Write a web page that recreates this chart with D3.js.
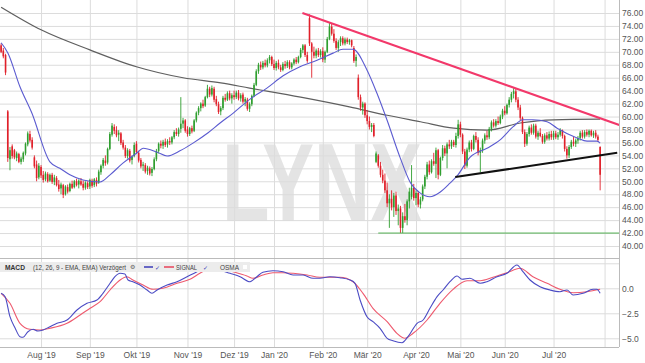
<!DOCTYPE html>
<html>
<head>
<meta charset="utf-8">
<script src="https://cdn.jsdelivr.net/npm/d3@7"></script>
<style>
  body { margin: 0; background: #fff; }
  svg { display: block; font-family: "Liberation Sans", Arial, sans-serif; }
</style>
</head>
<body>
<svg id="chart" width="645" height="363"></svg>
<script>
// trading calendar (Xetra)
const firstDay = '2019-07-08';
const lastDay = '2020-08-11';
const holidays = ['2019-12-24', '2019-12-25', '2019-12-26', '2019-12-31', '2020-01-01', '2020-04-10', '2020-04-13', '2020-05-01'];

// daily candles, one line per month (Jul 19 ... Jul 20)
const open = [
  71.0,70.2,69.5,60.8,53.4,55.4,54.8,53.6,54.2,53.0,53.4,54.3,55.7,57.3,56.4,53.7,52.6,50.6,
  52.2,51.0,50.3,51.1,50.1,51.0,49.9,50.5,49.5,48.9,49.4,48.0,49.1,48.5,49.6,49.1,50.0,49.5,50.0,49.6,49.0,49.7,
  49.2,50.1,49.4,50.2,49.8,51.4,52.4,53.2,52.9,55.0,57.2,58.4,57.9,57.2,57.4,56.0,55.2,53.9,54.7,53.3,53.9,
  55.8,54.4,53.3,52.4,52.5,51.6,52.0,51.3,51.9,53.4,54.7,55.8,55.5,56.1,55.7,56.2,56.0,56.8,57.6,57.3,58.1,58.9,59.4,
  58.0,57.3,58.2,57.8,59.4,60.6,61.3,62.0,61.7,63.0,64.3,63.4,64.3,62.7,61.9,60.8,61.3,62.9,62.6,63.6,62.8,
  63.3,63.0,63.7,62.8,63.4,62.3,62.6,61.2,61.9,63.2,64.9,67.0,68.0,67.6,68.3,67.9,68.7,69.2,
  68.1,67.5,68.3,67.6,67.2,68.1,67.8,68.4,67.6,68.2,68.8,68.4,69.2,70.3,71.0,69.5,75.2,71.3,70.0,69.4,70.2,69.5,
  70.1,68.8,70.0,72.0,73.9,72.8,71.7,70.6,71.5,72.1,71.3,71.9,71.5,71.8,70.6,68.6,66.0,63.0,61.4,62.0,
  60.2,59.3,58.4,58.7,53.0,54.0,52.4,51.0,50.1,48.6,46.6,47.3,46.0,47.8,45.4,45.8,42.8,44.6,44.0,46.9,47.6,49.0,
  47.4,48.2,46.4,47.2,49.2,50.7,52.6,51.4,53.1,52.7,54.8,51.0,53.6,55.1,54.3,55.7,55.4,56.1,55.6,57.0,
  58.8,57.2,54.6,52.4,54.9,56.0,55.0,57.0,56.4,54.4,54.8,56.3,57.1,56.8,58.1,59.1,58.6,59.3,59.0,60.0,
  60.9,60.5,61.8,62.6,63.5,63.9,62.6,61.4,59.8,57.6,55.8,57.3,58.3,57.5,58.6,56.9,57.5,57.0,56.1,57.1,56.6,57.3,
  56.8,57.4,56.8,57.2,57.9,57.0,55.0,54.0,55.3,56.1,55.8,56.3,56.7,57.5,56.9,57.6,57.2,57.8,57.1,57.5,56.9,55.3
];
const high = [
  71.3,70.6,69.7,61.0,55.3,55.7,55.0,54.6,54.4,53.8,54.6,56.0,57.7,57.8,56.8,54.0,53.2,52.8,
  52.5,51.6,51.5,51.4,51.2,51.3,51.0,50.8,50.2,49.8,49.6,49.4,49.5,49.8,50.1,50.2,50.4,50.3,50.5,50.1,50.0,50.0,
  50.4,50.4,50.5,50.6,51.8,52.6,53.6,54.0,55.2,57.6,59.0,58.8,58.5,57.9,57.6,56.4,55.6,55.1,55.0,54.0,56.0,
  56.2,54.7,53.6,53.0,52.8,52.4,52.3,52.2,53.7,55.0,56.0,56.3,56.4,56.6,56.5,56.8,57.0,57.9,58.2,58.3,63.0,59.8,59.6,
  58.5,58.4,58.6,59.6,60.8,61.6,62.2,62.6,63.2,64.9,64.6,64.8,64.6,63.2,62.3,61.6,63.2,63.5,63.9,64.0,63.6,
  64.0,64.0,64.1,63.6,63.7,63.0,62.9,62.2,63.4,65.2,67.3,68.3,68.5,68.6,68.8,69.0,69.5,69.4,
  68.8,68.6,68.8,68.0,68.4,68.6,68.7,68.7,68.4,69.0,69.2,69.4,70.6,71.2,71.2,70.0,75.8,71.5,70.8,70.5,70.6,70.4,
  70.7,70.2,72.3,74.5,74.3,73.5,72.1,71.8,72.4,72.4,72.2,72.2,72.0,71.9,70.9,69.6,66.5,63.4,62.3,62.2,
  61.0,60.0,59.0,59.0,54.6,54.2,53.0,51.8,51.2,49.8,48.0,48.6,48.2,48.4,46.4,46.2,45.2,46.5,47.2,49.0,52.5,49.6,
  48.6,48.5,47.6,49.5,51.0,53.0,53.2,53.4,54.4,55.2,55.0,53.8,55.6,55.5,56.0,56.4,56.4,56.4,57.5,59.5,
  59.2,57.4,55.0,55.2,56.3,56.4,57.2,57.6,56.8,55.2,56.6,57.4,57.8,58.4,59.4,59.6,59.6,60.0,60.3,61.2,
  61.6,62.0,63.0,63.8,64.4,64.3,63.0,61.8,60.0,58.0,57.6,58.6,58.8,58.9,58.9,57.8,58.2,57.3,57.4,57.6,57.7,57.8,
  57.8,57.8,57.6,58.2,58.0,57.2,55.4,55.6,56.4,56.9,56.6,57.0,57.8,57.9,57.9,58.0,58.0,58.0,57.8,57.9,57.2,55.4
];
const low = [
  69.8,69.0,66.4,53.0,51.7,53.5,53.4,53.1,52.8,52.6,53.0,54.0,55.4,56.0,54.9,52.0,50.0,50.3,
  50.5,49.8,50.0,49.8,49.9,49.6,49.4,49.2,48.4,48.0,47.4,47.8,48.1,48.3,48.8,48.9,49.2,48.9,49.3,48.6,48.7,48.8,
  48.8,49.0,49.1,49.2,49.6,51.0,52.0,52.4,52.6,54.8,56.9,57.3,56.8,56.2,55.6,54.9,53.6,53.5,52.9,52.6,53.7,
  54.2,52.9,52.0,51.6,51.2,51.0,50.9,50.8,51.7,53.1,54.3,55.1,55.0,55.3,55.2,55.6,55.7,56.5,57.0,56.9,57.5,58.2,57.5,
  56.9,57.0,57.4,57.6,59.1,60.2,60.8,61.3,61.5,62.8,63.0,63.1,62.2,61.6,60.4,60.2,61.0,62.3,62.4,62.5,62.0,
  62.6,62.7,62.5,62.3,62.0,61.6,60.9,60.7,61.6,63.0,64.7,66.6,67.2,67.3,67.6,67.6,68.2,67.8,
  67.2,67.1,67.3,66.9,67.0,67.4,67.5,67.3,67.3,67.9,68.1,68.2,69.0,69.8,69.2,68.3,70.9,66.0,69.0,69.0,69.2,69.1,
  68.4,68.3,69.8,71.8,72.5,71.4,70.3,70.0,70.9,71.0,71.0,71.2,71.1,70.7,68.3,67.7,62.6,60.9,60.3,59.8,
  58.8,58.0,57.6,56.8,52.8,52.1,50.6,49.7,48.2,46.0,42.8,45.5,44.5,44.8,43.2,42.0,42.0,43.6,43.2,45.8,47.2,47.0,
  46.3,46.0,45.8,46.9,48.8,50.3,51.0,51.2,52.4,50.5,50.3,50.8,53.2,53.9,52.0,55.0,55.0,55.3,55.2,56.6,
  56.8,54.2,51.9,52.1,54.5,54.6,54.8,56.0,54.0,51.4,54.4,55.8,56.4,56.5,57.7,58.3,58.3,58.7,58.8,59.6,
  60.2,60.3,61.4,62.2,62.8,62.2,61.0,59.4,57.3,55.3,55.5,56.9,57.2,57.2,56.6,56.4,56.8,55.8,55.8,56.3,56.3,56.4,
  56.4,56.5,56.4,56.9,56.6,54.6,53.5,53.6,55.0,55.4,55.3,55.8,56.3,56.6,56.6,56.9,56.8,56.9,56.7,56.6,56.1,48.6
];
const close = [
  70.0,69.3,66.8,53.6,54.8,53.9,53.7,54.3,53.0,53.5,54.4,55.8,57.4,56.3,55.2,52.3,50.5,52.4,
  50.9,50.2,51.2,50.0,51.0,49.9,50.6,49.4,48.8,49.5,47.9,49.2,48.4,49.6,49.0,50.0,49.4,50.1,49.5,49.0,49.8,49.1,
  50.2,49.3,50.3,49.6,51.5,52.4,53.3,52.8,55.0,57.3,58.6,57.8,57.1,57.5,55.9,55.2,53.9,54.8,53.2,53.8,55.6,
  54.5,53.2,52.3,52.6,51.5,52.1,51.2,51.9,53.4,54.7,55.8,55.5,56.1,55.6,56.2,56.0,56.8,57.6,57.3,58.0,58.9,59.4,57.8,
  57.3,58.2,57.7,59.4,60.6,61.3,62.0,61.6,63.0,64.3,63.4,64.4,62.6,61.9,60.7,61.3,62.9,62.6,63.6,62.8,63.3,
  63.0,63.7,62.8,63.3,62.3,62.7,61.2,61.9,63.2,64.9,67.0,68.0,67.6,68.3,67.9,68.7,69.2,68.1,
  67.5,68.3,67.6,67.2,68.1,67.8,68.4,67.6,68.2,68.8,68.4,69.2,70.3,71.0,69.5,68.6,71.3,70.0,69.4,70.2,69.5,70.1,
  68.8,70.0,72.0,73.9,72.8,71.7,70.6,71.5,72.1,71.3,71.9,71.5,71.8,71.0,68.6,69.2,63.0,61.4,62.0,60.2,
  59.3,58.4,58.7,57.0,54.3,52.4,51.0,50.1,48.6,46.6,47.3,46.0,47.8,45.4,45.8,42.8,44.6,44.0,46.9,48.4,49.0,47.4,
  48.2,46.4,47.2,49.2,50.7,52.6,51.4,53.1,52.7,54.8,51.0,53.6,55.1,54.3,55.7,55.4,56.1,55.6,57.0,58.8,
  57.2,54.6,52.4,54.9,56.0,55.0,57.0,56.4,54.4,54.8,56.3,57.1,56.8,58.1,59.1,58.6,59.3,59.0,60.0,60.9,
  60.5,61.8,62.6,63.5,63.9,62.6,61.4,59.8,57.6,55.8,57.3,58.3,57.5,58.6,56.9,57.5,57.0,56.1,57.1,56.6,57.3,56.8,
  57.4,56.8,57.2,57.9,57.0,55.0,54.0,55.3,56.1,55.8,56.3,56.7,57.5,56.9,57.6,57.2,57.8,57.1,57.5,56.9,56.4,51.0
];

// moving averages: [trading day index, value]
const sma200 = [[0,76.9],[18,73.4],[40,70.3],[61,67.7],[82,66.0],[99,65.2],[112,64.4],[135,63.0],[157,61.5],[174,60.2],[189,59.2],[204,58.2],[219,57.9],[234,59.0],[249,59.5],[270,59.6]];
const sma20 = [[0,71.4],[3.1,69.8],[8.5,64.6],[13.9,60.5],[22,53.0],[26.5,52.0],[31,51.0],[36.9,50.2],[44.6,49.9],[49.1,51.0],[54.9,52.8],[61.3,54.4],[64,55.1],[70.3,54.5],[74.8,53.9],[80.6,54.7],[86.5,55.9],[93.3,57.5],[98.7,59.0],[104.5,60.5],[112.2,62.7],[119.8,64.4],[127.1,66.3],[134.7,67.7],[142.4,68.7],[149.6,69.8],[154.1,70.4],[158.6,70.4],[164.9,67.2],[169.4,63.6],[173.9,59.5],[179.8,53.7],[184.3,49.9],[188.8,48.2],[193.3,47.6],[197.8,48.3],[202.3,49.7],[205.9,51.0],[211.3,53.7],[219,55.1],[224.9,56.4],[230.7,58.4],[235.2,59.5],[239.7,59.5],[246.1,59.2],[250.6,58.2],[259.6,56.7],[264.1,56.2],[268.6,56.2],[270,55.9]];

// MACD (12, 26, 9) and signal
const macd = [[0,-0.50],[1.8,-0.84],[4,-2.84],[6.3,-3.97],[8.5,-4.84],[9.9,-4.90],[12.1,-4.34],[14.4,-4.10],[16.6,-4.27],[18.9,-4.17],[22,-3.84],[25.2,-3.50],[29.7,-3.17],[34.2,-2.17],[38.7,-1.50],[43.2,-1.17],[45.9,-0.50],[49.1,0.50],[51.3,1.16],[53.6,1.50],[55.8,1.43],[57.2,0.83],[59.4,0.66],[62.6,0.33],[65.8,-0.17],[68,-0.50],[70.3,-0.17],[74.8,0.33],[79.3,0.66],[83.8,1.16],[88.3,1.66],[92.8,2.23],[95.5,2.16],[98.7,1.83],[103.2,1.50],[107.7,1.16],[112.2,0.66],[115.3,1.16],[118,1.60],[122.5,1.76],[127.1,1.66],[131.6,1.33],[136.1,1.33],[140.6,1.00],[143.7,1.00],[148.2,1.16],[152.7,1.06],[157.3,0.83],[159.5,0.50],[161.8,-1.17],[164.9,-2.84],[167.6,-3.34],[170.8,-4.00],[174,-5.00],[176.6,-5.24],[180.7,-5.44],[183.4,-4.84],[187.5,-3.50],[190.2,-3.17],[193.3,-2.00],[196.5,-0.84],[199.2,-0.17],[202.3,0.66],[205.5,1.23],[207.7,0.90],[211.3,1.00],[215.9,0.50],[219,0.66],[223.5,1.16],[228,1.50],[232.5,2.33],[235.2,1.66],[238.4,0.83],[242.9,0.16],[247.4,-0.17],[251.9,-0.34],[255.1,-0.17],[257.8,-0.67],[262.3,-0.50],[266.8,-0.10],[268.5,-0.10],[270,-0.50]];
const signal = [[0,-0.50],[4,-1.50],[8.5,-3.50],[13,-4.10],[17.5,-4.17],[22,-4.00],[29.7,-3.50],[35.6,-2.67],[40.1,-2.00],[44.6,-1.34],[49.1,-0.17],[53.6,0.83],[56.7,1.16],[59.4,0.83],[64,0.33],[68.5,-0.10],[73,0.00],[79.3,0.50],[85.1,0.90],[89.6,1.50],[94.2,2.00],[98.7,2.00],[104.5,1.66],[110.8,1.23],[113.5,1.00],[118,1.33],[122.5,1.56],[127.1,1.56],[131.6,1.50],[137.9,1.33],[143.7,1.10],[152.7,1.10],[158.6,0.66],[163.1,-0.50],[167.6,-2.00],[174,-3.34],[178.4,-4.50],[182,-5.00],[185.7,-4.50],[192,-3.17],[197.8,-1.50],[203.7,-0.10],[210,0.76],[215.9,0.76],[221.7,1.10],[228,1.56],[233.9,2.00],[239.7,1.16],[246.1,0.50],[251.9,-0.10],[257.8,-0.44],[264.1,-0.34],[270,-0.10]];

// drawn trend lines: [trading day index, price]
const resistance = [[135.8, 76.0], [278.6, 58.7]];
const support = [[204.7, 50.65], [277.7, 54.4]];
const bottomLine = [[170, 42.0], [278.6, 42.0]];

const priceTicks = d3.range(40, 76.01, 2);
const macdTicks = [-5, -2.5, 0, 2.5];

// ---------------------------------------------------------------
const svg = d3.select('#chart');
const plotW = 619;
const mainTop = 0, mainBottom = 258;
const macdTop = 259, macdBottom = 347;

const parse = d3.timeParse('%Y-%m-%d');
const key = d3.timeFormat('%Y-%m-%d');
const days = d3.timeDay.range(parse(firstDay), d3.timeDay.offset(parse(lastDay), 1))
  .filter(d => d.getDay() % 6 !== 0 && !holidays.includes(key(d)));

const de = d3.timeFormatLocale({
  dateTime: '%A, %e. %B %Y, %X', date: '%d.%m.%Y', time: '%H:%M:%S', periods: ['AM', 'PM'],
  days: ['Sonntag', 'Montag', 'Dienstag', 'Mittwoch', 'Donnerstag', 'Freitag', 'Samstag'],
  shortDays: ['So', 'Mo', 'Di', 'Mi', 'Do', 'Fr', 'Sa'],
  months: ['Januar', 'Februar', 'März', 'April', 'Mai', 'Juni', 'Juli', 'August', 'September', 'Oktober', 'November', 'Dezember'],
  shortMonths: ['Jan', 'Feb', 'Mär', 'Apr', 'Mai', 'Jun', 'Jul', 'Aug', 'Sep', 'Okt', 'Nov', 'Dez']
});
const monthFmt = de.format("%b '%y");

const monthStarts = days.map((d, i) => (i > 0 && d.getMonth() !== days[i - 1].getMonth()) ? i : null)
  .filter(v => v !== null);

const x = d3.scaleLinear().domain([-0.5, days.length - 0.5]).range([0, plotW]);
const y = d3.scaleLinear().domain([40, 76]).range([246, 13]);
const ym = d3.scaleLinear().domain([-5, 0]).range([338.3, 288.3]);

const gridColor = '#dcdcdc';
const textColor = '#555';

// watermark
svg.append('text')
  .attr('x', 222).attr('y', 221)
  .attr('font-size', 112).attr('font-weight', 'bold')
  .attr('textLength', 200).attr('lengthAdjust', 'spacingAndGlyphs')
  .attr('fill', '#e4e4e4')
  .text('LYNX');

// horizontal grid main
svg.append('g')
  .call(d3.axisRight(y).tickValues(priceTicks).tickSize(plotW).tickFormat(''))
  .call(g => g.select('.domain').remove())
  .call(g => g.selectAll('line').attr('stroke', gridColor));

// horizontal grid macd
svg.append('g')
  .call(d3.axisRight(ym).tickValues(macdTicks).tickSize(plotW).tickFormat(''))
  .call(g => g.select('.domain').remove())
  .call(g => g.selectAll('line').attr('stroke', gridColor));

// vertical grid
svg.append('g')
  .call(d3.axisBottom(x).tickValues(monthStarts).tickSize(macdBottom).tickFormat(''))
  .call(g => g.select('.domain').remove())
  .call(g => g.selectAll('line').attr('stroke', gridColor));

// panel frames
svg.append('line').attr('x1', 0).attr('x2', plotW).attr('y1', mainBottom + 0.5).attr('y2', mainBottom + 0.5).attr('stroke', '#bbb');
svg.append('line').attr('x1', 0).attr('x2', plotW).attr('y1', macdBottom + 0.5).attr('y2', macdBottom + 0.5).attr('stroke', '#bbb');
svg.append('line').attr('x1', plotW + 0.5).attr('x2', plotW + 0.5).attr('y1', 0).attr('y2', macdBottom).attr('stroke', '#bbb');

// clip for main panel
svg.append('clipPath').attr('id', 'clipMain')
  .append('rect').attr('x', 0).attr('y', mainTop).attr('width', plotW).attr('height', mainBottom - mainTop);
svg.append('clipPath').attr('id', 'clipMacd')
  .append('rect').attr('x', 0).attr('y', macdTop).attr('width', plotW).attr('height', macdBottom - macdTop);

const main = svg.append('g').attr('clip-path', 'url(#clipMain)');

const pLine = d3.line().x(d => x(d[0])).y(d => y(d[1])).curve(d3.curveMonotoneX);

main.append('path').datum(sma200).attr('d', pLine)
  .attr('fill', 'none').attr('stroke', '#5f5f5f').attr('stroke-width', 1.2);

// candles
const candles = close.map((c, i) => ({ i, o: open[i], h: high[i], l: low[i], c }));
const up = '#2f9e2f', down = '#e0202a';
const cg = main.append('g').selectAll('g').data(candles).join('g');
cg.append('line')
  .attr('x1', d => x(d.i)).attr('x2', d => x(d.i))
  .attr('y1', d => y(d.h)).attr('y2', d => y(d.l))
  .attr('stroke', d => d.c >= d.o ? up : down).attr('stroke-width', 0.9);
cg.append('rect')
  .attr('x', d => x(d.i) - 0.8).attr('width', 1.6)
  .attr('y', d => y(Math.max(d.o, d.c)))
  .attr('height', d => Math.max(0.8, Math.abs(y(d.o) - y(d.c))))
  .attr('fill', d => d.c >= d.o ? up : down);

main.append('path').datum(sma20).attr('d', pLine)
  .attr('fill', 'none').attr('stroke', '#5b5bd0').attr('stroke-width', 1.1);

const straight = d3.line().x(d => x(d[0])).y(d => y(d[1]));
main.append('path').datum(bottomLine).attr('d', straight)
  .attr('stroke', '#52b152').attr('stroke-width', 1);
main.append('path').datum(resistance).attr('d', straight)
  .attr('stroke', '#f2386a').attr('stroke-width', 2);
main.append('path').datum(support).attr('d', straight)
  .attr('stroke', '#111').attr('stroke-width', 2);

// price axis
svg.append('g').attr('transform', `translate(${plotW},0)`)
  .call(d3.axisRight(y).tickValues(priceTicks).tickFormat(d3.format('.2f')).tickSize(0).tickPadding(3))
  .call(g => g.select('.domain').remove())
  .call(g => g.selectAll('text').attr('fill', textColor).attr('font-size', 8.5).attr('font-family', '"Liberation Sans", Arial, sans-serif'));

// MACD panel
const macdG = svg.append('g').attr('clip-path', 'url(#clipMacd)');
const mLine = d3.line().x(d => x(d[0])).y(d => ym(d[1])).curve(d3.curveMonotoneX);

// header
const hdr = svg.append('g');
hdr.append('rect').attr('x', 0).attr('y', 262).attr('width', 250).attr('height', 10).attr('fill', '#ececec');
hdr.append('text').attr('x', 5).attr('y', 269.6).attr('font-size', 7).attr('font-weight', 'bold').attr('fill', '#333')
  .attr('textLength', 20).attr('lengthAdjust', 'spacingAndGlyphs').text('MACD');
hdr.append('text').attr('x', 33).attr('y', 269.6).attr('font-size', 6.5).attr('fill', '#444')
  .attr('textLength', 93).attr('lengthAdjust', 'spacingAndGlyphs').text('(12, 26, 9 - EMA, EMA) Verzögert');
hdr.append('text').attr('x', 130).attr('y', 269.4).attr('font-size', 5.5).attr('fill', '#666').text('⚙');
hdr.append('line').attr('x1', 144).attr('x2', 153).attr('y1', 267).attr('y2', 267).attr('stroke', '#3b3bb8').attr('stroke-width', 1.5);
hdr.append('text').attr('x', 155).attr('y', 269.6).attr('font-size', 6).attr('fill', '#3b3bb8').text('✓');
hdr.append('line').attr('x1', 164).attr('x2', 174).attr('y1', 267).attr('y2', 267).attr('stroke', '#e8435a').attr('stroke-width', 1.5);
hdr.append('text').attr('x', 176).attr('y', 269.6).attr('font-size', 6.5).attr('fill', '#444')
  .attr('textLength', 21).attr('lengthAdjust', 'spacingAndGlyphs').text('SIGNAL');
hdr.append('text').attr('x', 203).attr('y', 269.6).attr('font-size', 6).attr('fill', '#3b3bb8').text('✓');
hdr.append('text').attr('x', 220).attr('y', 269.6).attr('font-size', 6.5).attr('fill', '#444')
  .attr('textLength', 19).attr('lengthAdjust', 'spacingAndGlyphs').text('OSMA');
hdr.append('rect').attr('x', 243).attr('y', 265).attr('width', 4).attr('height', 4).attr('fill', '#fff');

macdG.append('path').datum(signal).attr('d', mLine)
  .attr('fill', 'none').attr('stroke', '#ee5a6e').attr('stroke-width', 1.1);
macdG.append('path').datum(macd).attr('d', mLine)
  .attr('fill', 'none').attr('stroke', '#4b4bc4').attr('stroke-width', 1.1);

svg.append('g').attr('transform', `translate(${plotW},0)`)
  .call(d3.axisRight(ym).tickValues([-5, -2.5, 0]).tickFormat(d3.format('.1f')).tickSize(0).tickPadding(3))
  .call(g => g.select('.domain').remove())
  .call(g => g.selectAll('text').attr('fill', textColor).attr('font-size', 8.5).attr('font-family', '"Liberation Sans", Arial, sans-serif'));

// month labels (last month has no candles yet)
svg.append('g').attr('transform', `translate(0,${macdBottom})`)
  .call(d3.axisBottom(x).tickValues(monthStarts.filter(i => i < close.length)).tickFormat(i => monthFmt(days[i])).tickSize(0).tickPadding(5))
  .call(g => g.select('.domain').remove())
  .call(g => g.selectAll('text').attr('fill', textColor).attr('font-size', 8.5).attr('font-family', '"Liberation Sans", Arial, sans-serif'));
</script>
</body>
</html>
